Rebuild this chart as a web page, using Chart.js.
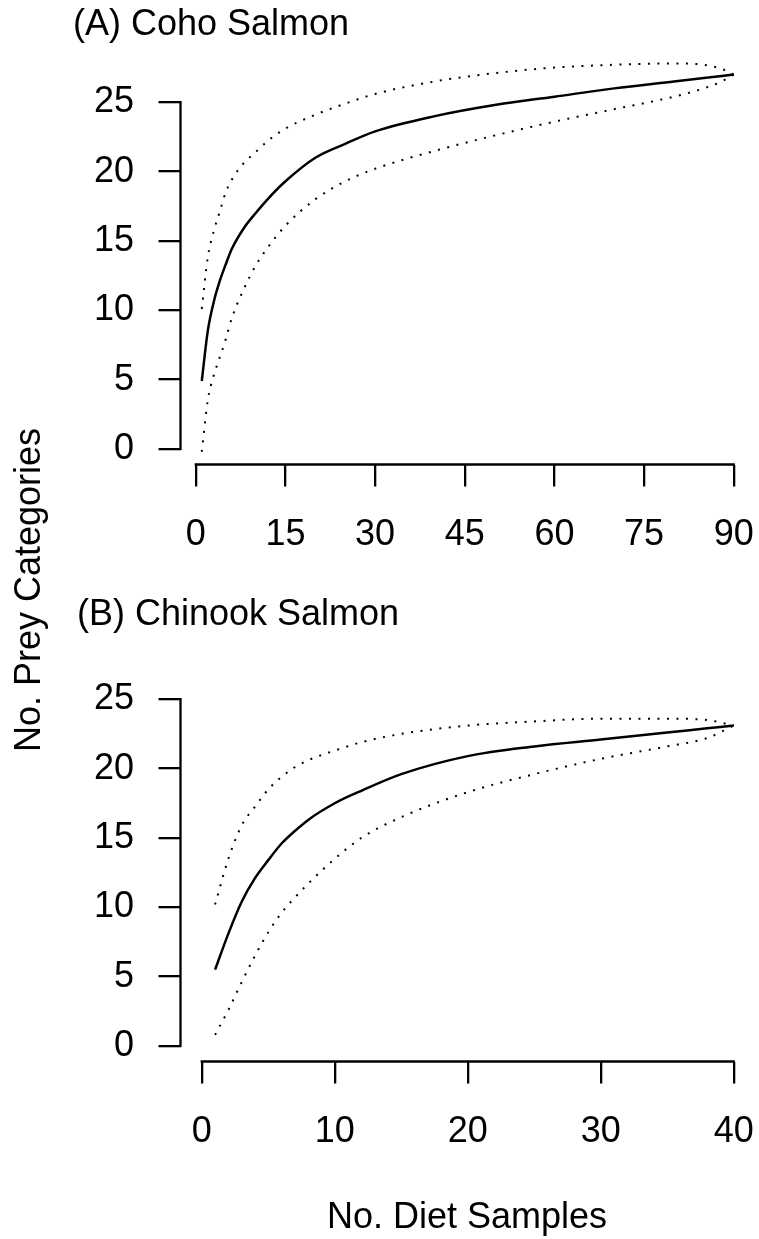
<!DOCTYPE html>
<html>
<head>
<meta charset="utf-8">
<script src="https://cdn.jsdelivr.net/npm/chart.js@4.4.1/dist/chart.umd.min.js"></script>
<style>
body {
    margin: 0;
    background: #fff;
    width: 759px;
    height: 1239px;
    position: relative;
    overflow: hidden;
    font-family: "Liberation Sans", Arial, sans-serif;
}
canvas { position: absolute; left: 0; }
.lbl {
    position: absolute;
    font-size: 36px;
    line-height: 36px;
    color: #000;
    white-space: nowrap;
}
</style>
</head>
<body>

<canvas id="chartA" width="759" height="597" style="top:0px"></canvas>
<canvas id="chartB" width="759" height="642" style="top:597px"></canvas>

<div class="lbl" style="left:73px; top:4.5px">(A) Coho Salmon</div>
<div class="lbl" style="left:77px; top:594.5px">(B) Chinook Salmon</div>
<div class="lbl" style="left:-222.5px; top:572px; width:500px; text-align:center; transform:rotate(-90deg)">No. Prey Categories</div>
<div class="lbl" style="left:167px; top:1197.5px; width:600px; text-align:center">No. Diet Samples</div>

<script>
// (A) Coho salmon - rarefaction curve with bounds
const cohoSamples = [1, 2, 3, 4, 5, 6, 8, 10, 12, 15, 20, 25, 30, 40, 50, 60, 70, 80, 85, 88, 90];
const cohoMean  = [4.9, 8.5, 10.6, 12.1, 13.3, 14.4, 15.9, 17.0, 18.0, 19.3, 21.0, 22.0, 22.9, 24.0, 24.8, 25.4, 26.0, 26.5, 26.75, 26.9, 27.0];
const cohoUpper = [10.1, 13.8, 15.7, 17.1, 18.5, 19.4, 20.6, 21.4, 22.2, 23.1, 24.1, 24.9, 25.6, 26.5, 27.1, 27.5, 27.7, 27.8, 27.7, 27.4, 27.0];
const cohoLower = [-0.2, 3.5, 5.3, 6.6, 7.9, 9.4, 11.5, 13.2, 14.5, 16.1, 18.0, 19.3, 20.2, 21.5, 22.6, 23.6, 24.5, 25.4, 26.0, 26.5, 27.0];
const cohoXTicks = [0, 15, 30, 45, 60, 75, 90];

// (B) Chinook salmon
const chinookSamples = [1, 2, 3, 4, 5, 6, 7, 8, 10, 12, 15, 20, 25, 30, 35, 38, 40];
const chinookMean  = [5.5, 8.1, 10.4, 12.1, 13.4, 14.6, 15.5, 16.3, 17.5, 18.4, 19.6, 20.9, 21.6, 22.1, 22.6, 22.9, 23.1];
const chinookUpper = [10.2, 13.5, 15.9, 17.25, 18.5, 19.4, 20.1, 20.6, 21.3, 21.9, 22.5, 23.1, 23.4, 23.6, 23.6, 23.5, 23.1];
const chinookLower = [0.8, 2.6, 4.6, 6.5, 8.2, 9.6, 10.7, 11.7, 13.5, 15.0, 16.5, 18.3, 19.6, 20.7, 21.6, 22.2, 23.1];
const chinookXTicks = [0, 10, 20, 30, 40];

const yTicks = [0, 5, 10, 15, 20, 25];

Chart.defaults.font.family = '"Liberation Sans", Arial, sans-serif';
Chart.defaults.font.size = 36;
Chart.defaults.color = '#000';

// R style axes: line only from first to last tick
const axisLines = {
    id: 'axisLines',
    afterDraw(chart, args, opts) {
        const ctx = chart.ctx;
        const x = chart.scales.x;
        const y = chart.scales.y;
        const area = chart.chartArea;
        ctx.save();
        ctx.strokeStyle = '#000';
        ctx.lineWidth = 2.3;
        ctx.lineCap = 'square';
        ctx.beginPath();
        ctx.moveTo(area.left, y.getPixelForValue(opts.yTicks[0]));
        ctx.lineTo(area.left, y.getPixelForValue(opts.yTicks[opts.yTicks.length - 1]));
        ctx.moveTo(x.getPixelForValue(opts.xTicks[0]), area.bottom);
        ctx.lineTo(x.getPixelForValue(opts.xTicks[opts.xTicks.length - 1]), area.bottom);
        ctx.stroke();
        ctx.restore();
    }
};

function toPoints(xs, ys) {
    return xs.map((v, i) => ({ x: v, y: ys[i] }));
}

function makePanel(id, xs, mean, upper, lower, xTicks, xMin, xMax, canvasHeight) {
    const dotted = {
        borderColor: '#000',
        borderWidth: 2,
        borderDash: [2, 7.5],
        pointRadius: 0,
        cubicInterpolationMode: 'monotone',
        fill: false
    };
    return new Chart(document.getElementById(id), {
        type: 'line',
        data: {
            datasets: [
                Object.assign({ label: 'upper', data: toPoints(xs, upper) }, dotted),
                Object.assign({ label: 'lower', data: toPoints(xs, lower) }, dotted),
                {
                    label: 'mean',
                    data: toPoints(xs, mean),
                    borderColor: '#000',
                    borderWidth: 2.5,
                    pointRadius: 0,
                    cubicInterpolationMode: 'monotone',
                    fill: false
                }
            ]
        },
        options: {
            responsive: false,
            animation: false,
            layout: { padding: { top: 45.1, right: 4, left: 0, bottom: 0 } },
            plugins: {
                legend: { display: false },
                tooltip: { enabled: false },
                axisLines: { xTicks: xTicks, yTicks: yTicks }
            },
            scales: {
                x: {
                    type: 'linear',
                    min: xMin,
                    max: xMax,
                    border: { display: false },
                    grid: { drawOnChartArea: false, drawTicks: true, tickLength: 22, color: '#000', lineWidth: 2.3 },
                    ticks: { padding: 27.4, maxRotation: 0, autoSkip: false, callback: v => String(v) },
                    afterBuildTicks: s => { s.ticks = xTicks.map(v => ({ value: v })); },
                    afterFit: s => {
                        s.height = canvasHeight - 464.5;
                        s.paddingLeft = 0; s.paddingRight = 0;
                    }
                },
                y: {
                    type: 'linear',
                    min: -1.12,
                    max: 29.12,
                    border: { display: false },
                    grid: { drawOnChartArea: false, drawTicks: true, tickLength: 22, color: '#000', lineWidth: 2.3 },
                    ticks: { padding: 24.5, autoSkip: false, callback: v => String(v) },
                    afterBuildTicks: s => { s.ticks = yTicks.map(v => ({ value: v })); },
                    afterFit: s => {
                        s.width = 180.5;
                        s.paddingTop = 0; s.paddingBottom = 0;
                    }
                }
            }
        },
        plugins: [axisLines]
    });
}

makePanel('chartA', cohoSamples, cohoMean, cohoUpper, cohoLower, cohoXTicks, -2.56, 93.56, 597);
makePanel('chartB', chinookSamples, chinookMean, chinookUpper, chinookLower, chinookXTicks, -1.6, 41.6, 642);
</script>
</body>
</html>
